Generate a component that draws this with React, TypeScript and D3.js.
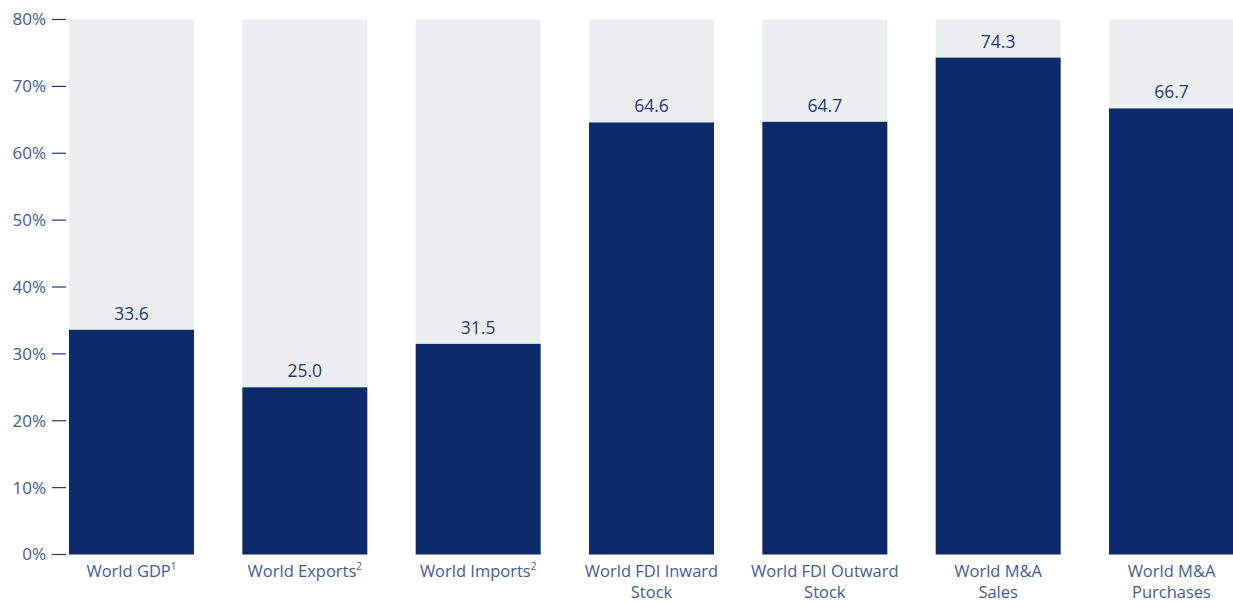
import React from "react";
import * as d3 from "d3";

const categories = ["World GDP", "World Exports", "World Imports", "World FDI Inward Stock", "World FDI Outward Stock", "World M&A Sales", "World M&A Purchases"];
const labelLines = [["World GDP", "1"], ["World Exports", "2"], ["World Imports", "2"], ["World FDI Inward", "", "Stock"], ["World FDI Outward", "", "Stock"], ["World M&A", "", "Sales"], ["World M&A", "", "Purchases"]];
const values = [33.6, 25.0, 31.5, 64.6, 64.7, 74.3, 66.7];
const yTicks = [0, 10, 20, 30, 40, 50, 60, 70, 80];

const W = 1233, H = 604;
const font = "'Open Sans', 'Noto Sans', sans-serif";

export default function App() {
  const x = d3.scaleBand<string>().domain(categories).range([69, 1234]).paddingInner(0.279).paddingOuter(0);
  const y = d3.scaleLinear().domain([0, 80]).range([554.5, 19.5]);
  return (
    <svg width={W} height={H} style={{ position: "absolute", left: 0, top: 0, display: "block" }}>
      <rect width={W} height={H} fill="#fff" />
      {yTicks.map((t) => (
        <g key={t}>
          <line x1={52} x2={66} y1={y(t)} y2={y(t)} stroke="#1F3A7A" strokeWidth={1.2} />
          <text x={46} y={y(t)} dy="0.35em" textAnchor="end" fontFamily={font} fontSize={17} fill="#445C94">{t}%</text>
        </g>
      ))}
      {categories.map((c, i) => {
        const bx = x(c)!;
        const bw = x.bandwidth();
        const ll = labelLines[i];
        return (
          <g key={c}>
            <rect x={bx} y={y(80)} width={bw} height={y(0) - y(80)} fill="#ECEFF0" />
            <rect x={bx} y={y(values[i])} width={bw} height={y(0) - y(values[i])} fill="#0F2A6B" />
            <text x={bx + bw / 2} y={y(values[i]) - 10} textAnchor="middle" fontFamily={font} fontSize={17.5} fill="#1F3A7A">{values[i].toFixed(1)}</text>
            <text x={bx + bw / 2} y={577} textAnchor="middle" fontFamily={font} fontSize={16.5} fill="#445C94">
              {ll[0]}
              {ll[1] ? <tspan fontSize={10} dy={-7}>{ll[1]}</tspan> : null}
            </text>
            {ll[2] ? (
              <text x={bx + bw / 2} y={598} textAnchor="middle" fontFamily={font} fontSize={16.5} fill="#445C94">{ll[2]}</text>
            ) : null}
          </g>
        );
      })}
    </svg>
  );
}
